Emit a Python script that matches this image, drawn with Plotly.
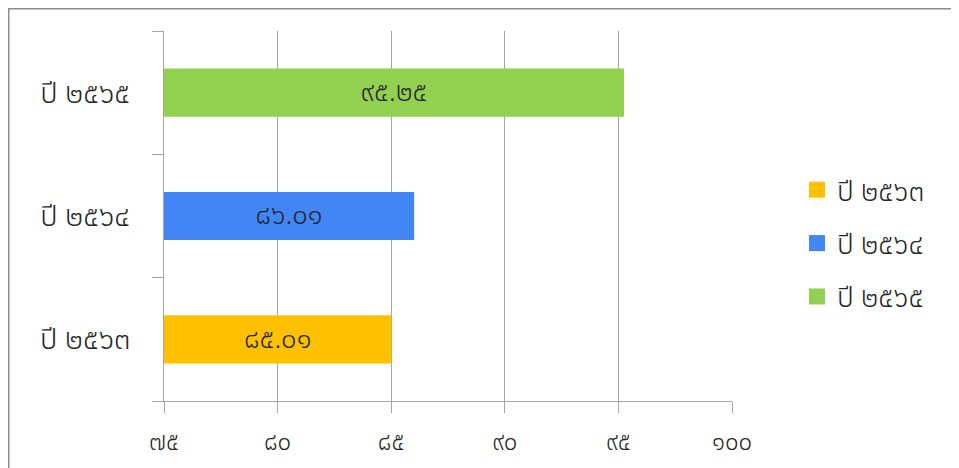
import plotly.graph_objects as go

categories = ["ปี ๒๕๖๓", "ปี ๒๕๖๔", "ปี ๒๕๖๕"]
values = [85.01, 86.01, 95.25]
colors = ["#FFC000", "#4285F4", "#92D050"]
x_tickvals = [75, 80, 85, 90, 95, 100]
x_ticktext = ["๗๕", "๘๐", "๘๕", "๙๐", "๙๕", "๑๐๐"]

THAI = str.maketrans("0123456789", "๐๑๒๓๔๕๖๗๘๙")

def thai_num(v):
    return f"{v:.2f}".translate(THAI)

FONT = "Noto Sans Thai, Noto Sans Thai UI, Loma, Garuda, Noto Sans, sans-serif"
FW = 300

# page body has an 8px margin, so the figure is offset by (8, 8)
OFF = 8
W, H = 959 - OFF, 468 - OFF
L = 164 - OFF
T = 31 - OFF
R = W - (732 - OFF)
B = H - (401 - OFF)
pw, ph = W - L - R, H - T - B

def px_x(x):  # figure px -> paper x
    return (x - L) / pw

def px_y(y):  # figure px -> paper y
    return (H - B - y) / ph

fig = go.Figure()
for i, (cat, val, col) in enumerate(zip(categories, values, colors)):
    fig.add_trace(go.Bar(
        y=[cat], x=[val - 75], base=75, orientation="h",
        name=cat, marker=dict(color=col, line=dict(width=0)),
        text=[thai_num(val)], textposition="inside", insidetextanchor="middle",
        textfont=dict(size=28, color="#262626", family=FONT, weight=FW),
        showlegend=False, hoverinfo="skip",
    ))
# legend entries (square swatches)
for i, (cat, col) in enumerate(zip(categories, colors)):
    fig.add_trace(go.Scatter(
        x=[None], y=[None], mode="markers", name=cat,
        marker=dict(symbol="square", size=18, color=col),
        legendgroup=f"g{i}", hoverinfo="skip",
    ))

fig.update_layout(
    width=W, height=H,
    margin=dict(l=L, r=R, t=T, b=B, autoexpand=False),
    paper_bgcolor="white", plot_bgcolor="white",
    barmode="overlay", bargap=0.61,
    font=dict(family=FONT, size=26, color="#262626", weight=FW),
    showlegend=True,
    legend=dict(x=px_x(797 - OFF), y=px_y(165 - OFF), xanchor="left", yanchor="top",
                traceorder="grouped", tracegroupgap=14, itemsizing="trace",
                font=dict(size=28, family=FONT, color="#262626", weight=FW),
                itemwidth=30),
    xaxis=dict(range=[75, 100], tickvals=x_tickvals, ticktext=x_ticktext,
               showgrid=True, gridcolor="#A6A6A6", gridwidth=1,
               showline=True, linecolor="#A6A6A6", linewidth=1,
               ticks="outside", ticklen=11, tickcolor="#A6A6A6",
               ticklabelstandoff=8, zeroline=False,
               tickfont=dict(size=24, family=FONT, color="#262626", weight=FW)),
    yaxis=dict(categoryorder="array", categoryarray=categories,
               range=[-0.5, 2.5],
               showline=True, linecolor="#A6A6A6", linewidth=1,
               ticks="outside", ticklen=11, tickcolor="#A6A6A6",
               tickson="boundaries", showgrid=False, zeroline=False,
               ticklabelstandoff=27,
               tickfont=dict(size=29, family=FONT, color="#262626", weight=FW)),
    shapes=[
        dict(type="line", xref="paper", yref="paper",
             x0=px_x(0), x1=px_x(W), y0=px_y(0.75), y1=px_y(0.75),
             line=dict(color="#8C8C8C", width=1.5)),
        dict(type="line", xref="paper", yref="paper",
             x0=px_x(0.75), x1=px_x(0.75), y0=px_y(0), y1=px_y(H),
             line=dict(color="#8C8C8C", width=1.5)),
    ],
)

fig.write_html("out.html")
